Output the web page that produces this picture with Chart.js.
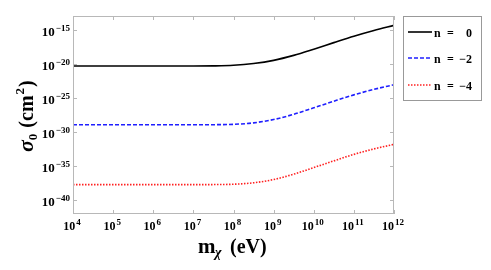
<!DOCTYPE html>
<html><head><meta charset="utf-8">
<script src="https://cdn.jsdelivr.net/npm/chart.js@4/dist/chart.umd.min.js"></script>
<style>html,body{margin:0;padding:0;background:#fff}#wrap{width:491px;height:270px}</style>
</head><body><div id="wrap"><canvas id="c" width="491" height="270"></canvas></div>
<script>
// Dark-matter mass m_chi (eV)
const masses = [1e4, 1e5, 1e6, 1e7, 3.16e7, 1e8, 3.16e8, 1e9, 3.16e9, 1e10, 3.16e10, 1e11, 3.16e11, 1e12];
// sigma_0 (cm^2) for each n
const sigmaN0  = [4.7e-21, 4.7e-21, 4.7e-21, 4.7e-21, 4.9e-21, 6.0e-21, 1.1e-20, 3.2e-20, 1.7e-19, 1.38e-18, 1.26e-17, 1.1e-16, 7.6e-16, 4.2e-15];
const sigmaNm2 = [1.17e-29, 1.17e-29, 1.17e-29, 1.17e-29, 1.2e-29, 1.35e-29, 2.24e-29, 6.9e-29, 4.0e-28, 3.55e-27, 3.3e-26, 2.8e-25, 1.78e-24, 8.7e-24];
const sigmaNm4 = [2.0e-38, 2.0e-38, 2.0e-38, 2.0e-38, 2.04e-38, 2.3e-38, 3.7e-38, 1.12e-37, 6.8e-37, 6.3e-36, 6.0e-35, 5.4e-34, 3.4e-33, 1.6e-32];
const seriesLabels = ["0", "\u22122", "\u22124"];
const xTickExps = [4, 5, 6, 7, 8, 9, 10, 11, 12];
const yTickExps = ["\u221215", "\u221220", "\u221225", "\u221230", "\u221235", "\u221240"];
const yTickVals = [1e-15, 1e-20, 1e-25, 1e-30, 1e-35, 1e-40];

const SERIF = '"Liberation Serif", "DejaVu Serif", serif';
const pts = arr => masses.map((m, i) => ({x: m, y: arr[i]}));

const decor = {
  id: 'decor',
  afterDraw(chart) {
    const ctx = chart.ctx, a = chart.chartArea;
    const xs = chart.scales.x, ys = chart.scales.y;
    ctx.save();
    // frame
    ctx.strokeStyle = '#b8b8b8'; ctx.lineWidth = 1;
    ctx.strokeRect(a.left + 0.5, a.top + 0.5, a.right - a.left - 1, a.bottom - a.top - 1);
    // ticks
    ctx.beginPath();
    xTickExps.forEach(e => {
      const px = Math.round(xs.getPixelForValue(Math.pow(10, e))) + 0.5;
      ctx.moveTo(px, a.bottom); ctx.lineTo(px, a.bottom - 4);
      ctx.moveTo(px, a.top); ctx.lineTo(px, a.top + 4);
    });
    yTickVals.forEach(v => {
      const py = Math.round(ys.getPixelForValue(v)) + 0.5;
      ctx.moveTo(a.left, py); ctx.lineTo(a.left + 4, py);
      ctx.moveTo(a.right, py); ctx.lineTo(a.right - 4, py);
    });
    ctx.stroke();
    // tick labels
    ctx.fillStyle = '#000';
    ctx.textBaseline = 'alphabetic'; ctx.textAlign = 'left';
    xTickExps.forEach(e => {
      const px = xs.getPixelForValue(Math.pow(10, e));
      ctx.font = 'bold 12px ' + SERIF;
      const w1 = ctx.measureText('10').width + 1;
      ctx.font = 'bold 9px ' + SERIF;
      const w2 = ctx.measureText(String(e)).width;
      const x0 = px - (w1 + w2) / 2 - 1;
      ctx.font = 'bold 12px ' + SERIF;
      ctx.fillText('10', x0, 230);
      ctx.font = 'bold 9px ' + SERIF;
      ctx.fillText(String(e), x0 + w1, 225);
    });
    yTickVals.forEach((v, i) => {
      const py = ys.getPixelForValue(v);
      ctx.font = 'bold 9px ' + SERIF;
      const w2 = ctx.measureText(yTickExps[i]).width;
      ctx.font = 'bold 13px ' + SERIF;
      const w1 = ctx.measureText('10').width + 1;
      const xr = 70;
      ctx.fillText('10', xr - w2 - w1, py + 6);
      ctx.font = 'bold 9px ' + SERIF;
      ctx.fillText(yTickExps[i], xr - w2, py + 1);
    });
    // x title
    ctx.font = 'bold 21px ' + SERIF;
    ctx.fillText('m', 198, 253);
    ctx.font = 'italic bold 14px ' + SERIF;
    ctx.fillText('\u03c7', 215, 257);
    ctx.font = 'bold 20px ' + SERIF;
    ctx.fillText('(eV)', 230, 253);
    // y title
    ctx.save();
    ctx.translate(33, 152); ctx.rotate(-Math.PI / 2);
    let x = 0;
    ctx.font = 'italic bold 22px ' + SERIF;
    ctx.fillText('\u03c3', x, 0); x += ctx.measureText('\u03c3').width;
    ctx.font = 'bold 13px ' + SERIF;
    ctx.fillText('0', x, 4); x += ctx.measureText('0').width + 6;
    ctx.font = 'bold 20px ' + SERIF;
    ctx.fillText('(cm', x, 0); x += ctx.measureText('(cm').width + 1;
    ctx.font = 'bold 13px ' + SERIF;
    ctx.fillText('2', x, -9); x += ctx.measureText('2').width + 1;
    ctx.font = 'bold 20px ' + SERIF;
    ctx.fillText(')', x, 0);
    ctx.restore();
    // legend
    ctx.strokeStyle = '#999'; ctx.lineWidth = 1;
    ctx.strokeRect(403.5, 16.5, 78, 84);
    const ly = [32, 58, 85];
    chart.data.datasets.forEach((ds, i) => {
      ctx.save();
      ctx.strokeStyle = ds.borderColor; ctx.lineWidth = ds.borderWidth;
      ctx.setLineDash(ds.borderDash || []);
      ctx.beginPath(); ctx.moveTo(408, ly[i]); ctx.lineTo(432, ly[i]); ctx.stroke();
      ctx.restore();
      ctx.fillStyle = '#000';
      ctx.font = 'bold 12px ' + SERIF;
      ctx.fillText('n', 434, ly[i] + 4.5);
      ctx.fillText('=', 447, ly[i] + 4.5);
      const s = seriesLabels[i];
      const w = ctx.measureText(s).width;
      ctx.fillText(s, 472 - w, ly[i] + 4.5);
    });
    ctx.restore();
  }
};

new Chart(document.getElementById('c'), {
  type: 'line',
  data: {
    datasets: [
      {label: 'n = 0', data: pts(sigmaN0), borderColor: '#000000', borderWidth: 1.6, pointRadius: 0, cubicInterpolationMode: 'monotone', fill: false},
      {label: 'n = \u22122', data: pts(sigmaNm2), borderColor: '#1f1fff', borderWidth: 1.6, borderDash: [4, 2], pointRadius: 0, cubicInterpolationMode: 'monotone', fill: false},
      {label: 'n = \u22124', data: pts(sigmaNm4), borderColor: '#ff2020', borderWidth: 1.6, borderDash: [1.5, 1.5], pointRadius: 0, cubicInterpolationMode: 'monotone', fill: false}
    ]
  },
  options: {
    responsive: false, animation: false, devicePixelRatio: 1,
    layout: {padding: {left: 73, right: 97, top: 16, bottom: 56}},
    plugins: {legend: {display: false}, tooltip: {enabled: false}},
    scales: {
      x: {type: 'logarithmic', min: 1e4, max: 1e12, display: false},
      y: {type: 'logarithmic', min: 1e-42, max: 1e-13, display: false}
    }
  },
  plugins: [decor]
});
</script></body></html>
